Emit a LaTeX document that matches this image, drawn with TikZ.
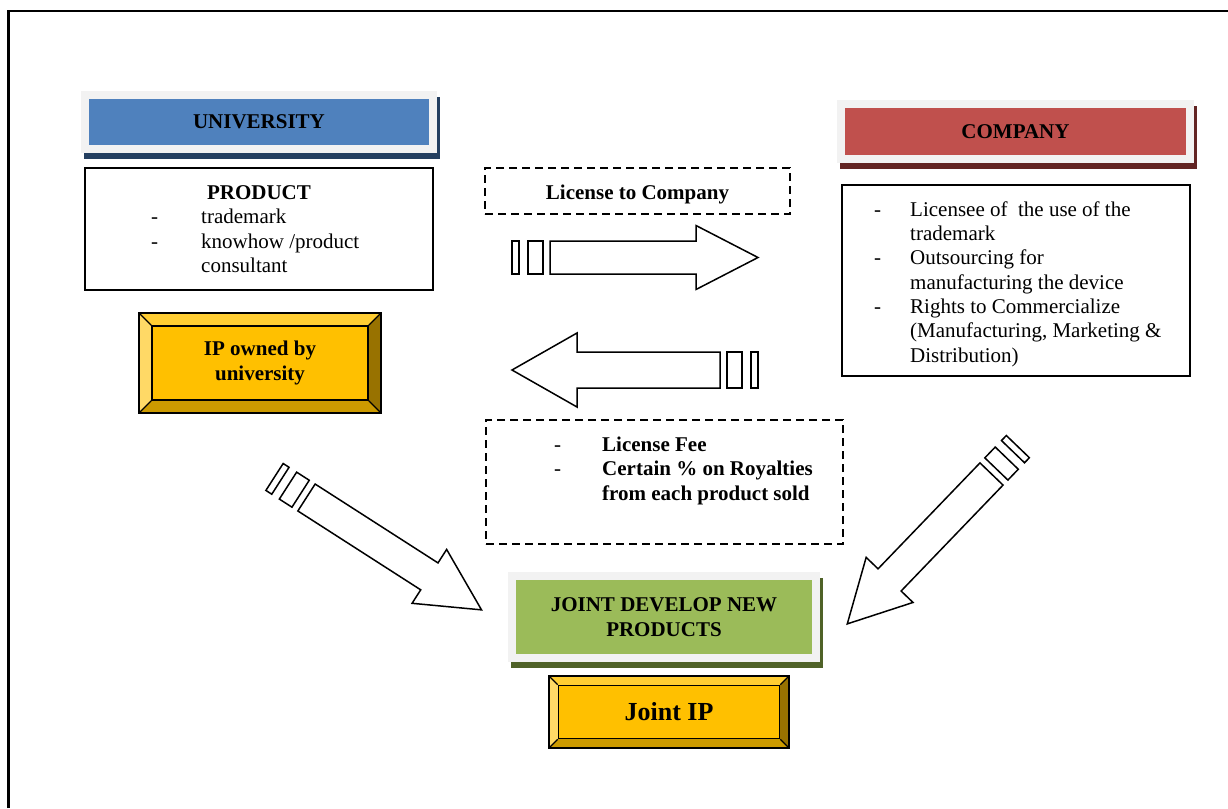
\documentclass[tikz,border=0pt]{standalone}
\usepackage{fontspec}
\setmainfont{Liberation Serif}
\definecolor{uniblue}{HTML}{4F81BD}
\definecolor{unishadow}{HTML}{243F60}
\definecolor{compred}{HTML}{C0504D}
\definecolor{compshadow}{HTML}{622423}
\definecolor{jointgreen}{HTML}{9BBB59}
\definecolor{jointshadow}{HTML}{4F6228}
\definecolor{rimgray}{HTML}{F2F2F2}
\definecolor{goldface}{HTML}{FFC000}
\definecolor{goldtop}{HTML}{FFCD33}
\definecolor{goldleft}{HTML}{FFD966}
\definecolor{goldbottom}{HTML}{CC9A00}
\definecolor{goldright}{HTML}{987200}

\newcommand\bodyfont{\fontsize{21}{24.4}\selectfont}
\newcommand\bigfont{\fontsize{26}{30}\selectfont}

% header box: shadow, light rim, coloured face with the title
\newcommand\headerbox[8]{%
  \fill[#7,shift={(3,6)}] (#2,#3) rectangle (#4,#5);
  \fill[rimgray] (#2,#3) rectangle (#4,#5);
  \node[fill=#6,inner sep=0pt,outer sep=0pt,
        minimum width={#4-#2-16},minimum height={#5-#3-16},
        font=\bodyfont\bfseries,align=center] (#1) at ({(#2+#4)/2},{(#3+#5)/2}) {#8};
}
% bevelled gold button: name, x1, y1, x2, y2, bevel, font, text
\newcommand\bevelbox[8]{%
  \fill[goldtop] (#2,#3) -- (#4,#3) -- ({#4-#6},{#3+#6}) -- ({#2+#6},{#3+#6}) -- cycle;
  \fill[goldleft] (#2,#3) -- ({#2+#6},{#3+#6}) -- ({#2+#6},{#5-#6}) -- (#2,#5) -- cycle;
  \fill[goldbottom] (#2,#5) -- ({#2+#6},{#5-#6}) -- ({#4-#6},{#5-#6}) -- (#4,#5) -- cycle;
  \fill[goldright] (#4,#3) -- (#4,#5) -- ({#4-#6},{#5-#6}) -- ({#4-#6},{#3+#6}) -- cycle;
  \node[draw,line width=1.6,fill=goldface,inner sep=0pt,
        minimum width={#4-#2-2*#6},minimum height={#5-#3-2*#6},
        align=center,font=#7\bfseries] (#1) at ({(#2+#4)/2},{(#3+#5)/2}) {#8};
  \draw[line width=1.6] (#2,#3) rectangle (#4,#5);
  \draw[line width=1.2] (#2,#3) -- (#1.north west) (#4,#3) -- (#1.north east)
                        (#2,#5) -- (#1.south west) (#4,#5) -- (#1.south east);
}

\tikzset{
  outline/.style={draw,line width=1.6,inner sep=0pt,outer sep=0pt},
  dashbox/.style={draw,line width=1.4,dash pattern=on 8pt off 5pt,inner sep=0pt,outer sep=0pt},
  txt/.style={anchor=base west,inner sep=0pt,font=\bodyfont},
  boldtxt/.style={txt,font=\bodyfont\bfseries},
  arrowline/.style={draw,fill=white,line width=1.5,line join=miter},
  pics/blockarrow/.style n args={3}{code={
    \draw[arrowline] (0,-#1) -- ({208-#3},-#1) -- ({208-#3},-#2) -- (208,0)
      -- ({208-#3},#2) -- ({208-#3},#1) -- (0,#1) -- cycle;
    \draw[arrowline] (-22,-#1) rectangle (-7,#1);
    \draw[arrowline] (-38,-#1) rectangle (-31,#1);
  }}
}

\begin{document}
\begin{tikzpicture}[x=1pt,y=-1pt]
\useasboundingbox (0,0) rectangle (1228,808);

% page frame
\draw[line width=2.5] (8.5,808) -- (8.5,11) -- (1228,11);

% titles
\headerbox{uni}{81}{91}{437}{153}{uniblue}{unishadow}{UNIVERSITY}
\headerbox{comp}{837}{100}{1194}{163}{compred}{compshadow}{COMPANY}
\headerbox{joint}{508}{572}{820}{662}{jointgreen}{jointshadow}{JOINT DEVELOP NEW\\PRODUCTS}

% university product box
\node[outline,minimum width=348,minimum height=122] (prod) at (259,229) {};
\node[anchor=base,inner sep=0pt,font=\bodyfont\bfseries] (prodhead) at (259,199) {PRODUCT};
\node[txt] (pd1) at (151,223) {-};
\node[txt] (pt1) at (201,223) {trademark};
\node[txt] (pd2) at (151,248) {-};
\node[txt] (pt2) at (201,248) {knowhow /product};
\node[txt] (pt3) at (201,272) {consultant};

% company rights box
\node[outline,minimum width=348,minimum height=191] (rights) at (1016,280.5) {};
\node[txt] (cd1) at (874,216) {-};
\node[txt] (ct1) at (910,216) {Licensee of~ the use of the};
\node[txt] (ct2) at (910,240) {trademark};
\node[txt] (cd3) at (874,264) {-};
\node[txt] (ct3) at (910,264) {Outsourcing for};
\node[txt] (ct4) at (910,289) {manufacturing the device};
\node[txt] (cd5) at (874,313) {-};
\node[txt] (ct5) at (910,313) {Rights to Commercialize};
\node[txt] (ct6) at (910,337) {(Manufacturing, Marketing \&};
\node[txt] (ct7) at (910,362) {Distribution)};

% licence boxes
\node[dashbox,minimum width=305,minimum height=46] (lic) at (637.5,191) {};
\node[anchor=base,inner sep=0pt,font=\bodyfont\bfseries] (lictext) at (637.5,199) {License to Company};
\node[dashbox,minimum width=357,minimum height=124] (fee) at (664.5,482) {};
\node[txt] (fd1) at (554,451) {-};
\node[boldtxt] (ft1) at (602,451) {License Fee};
\node[txt] (fd2) at (554,475) {-};
\node[boldtxt] (ft2) at (602,475) {Certain \% on Royalties};
\node[boldtxt] (ft3) at (602,500) {from each product sold};

% gold buttons
\bevelbox{ipuni}{139}{313}{381}{413}{13}{\bodyfont}{IP owned by\\university}
\bevelbox{jointip}{549}{676}{789}{748}{9.5}{\bigfont}{Joint IP}

% block arrows
\pic at (550,257.5) {blockarrow={16.5}{32}{62}};
\pic[rotate=180] at (720,370) {blockarrow={18}{37}{65}};
\pic[rotate=-32.7] at (306.5,497.5) {blockarrow={16}{32}{62}};
\pic[rotate=-133.9] at (991.5,474) {blockarrow={16}{32.5}{61}};
\end{tikzpicture}
\end{document}
